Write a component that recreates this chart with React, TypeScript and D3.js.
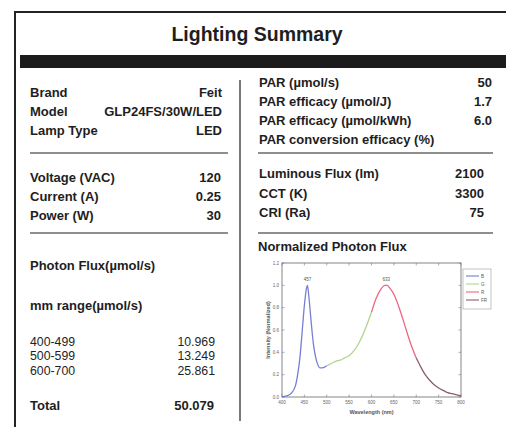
import React, { useEffect, useRef } from 'react';
import * as d3 from 'd3';

// Summary table rows
const productRows = [
  ["Brand", "Feit"],
  ["Model", "GLP24FS/30W/LED"],
  ["Lamp Type", "LED"],
];
const electricalRows = [
  ["Voltage (VAC)", "120"],
  ["Current (A)", "0.25"],
  ["Power (W)", "30"],
];
const parRows = [
  ["PAR (µmol/s)", "50"],
  ["PAR efficacy (µmol/J)", "1.7"],
  ["PAR efficacy (µmol/kWh)", "6.0"],
  ["PAR conversion efficacy (%)", ""],
];
const lightRows = [
  ["Luminous Flux (lm)", "2100"],
  ["CCT  (K)", "3300"],
  ["CRI (Ra)", "75"],
];
const fluxRanges = ["400-499", "500-599", "600-700"];
const fluxValues = ["10.969", "13.249", "25.861"];
const fluxTotal = "50.079";

// Spectrum
const wavelengths = [
  400, 410, 420, 430, 435, 440, 445, 450, 455, 457, 460, 465, 470, 475, 480, 485, 490,
  500, 510, 520, 530, 540, 550, 560, 570, 580, 590, 600, 610, 620, 630, 635, 640, 650,
  660, 670, 680, 690, 700, 710, 720, 730, 740, 750, 760, 770, 780, 790, 800,
];
const intensity = [
  0.0, 0.01, 0.03, 0.1, 0.2, 0.35, 0.58, 0.82, 0.98, 1.0, 0.9, 0.68, 0.48, 0.36, 0.29, 0.26, 0.26,
  0.28, 0.3, 0.32, 0.33, 0.35, 0.37, 0.41, 0.47, 0.55, 0.65, 0.76, 0.88, 0.96, 1.0, 1.0, 0.98, 0.92,
  0.82, 0.7, 0.57, 0.45, 0.35, 0.27, 0.2, 0.15, 0.11, 0.08, 0.06, 0.04, 0.03, 0.02, 0.01,
];
const bandNames = ["B", "G", "R", "FR"];
const bandEdges = [400, 500, 600, 700, 800];
const peaks = [[457, "457"], [633, "633"]];
const xTicks = [400, 450, 500, 550, 600, 650, 700, 750, 800];
const yTicks = [0, 0.2, 0.4, 0.6, 0.8, 1.0, 1.2];

export default function App() {
  const ref = useRef<SVGSVGElement>(null);

  useEffect(() => {
    if (!ref.current) return;
    const svg = d3.select(ref.current);
    svg.selectAll("*").remove();

    const font = "'Liberation Sans', Arial, sans-serif";
    const ink = "#1e1e1e";

    // outer frame and header bar
    svg.append("rect").attr("x", 15).attr("y", 12).attr("width", 520).attr("height", 440)
      .attr("fill", "none").attr("stroke", "#222").attr("stroke-width", 2);
    svg.append("text").attr("x", 257).attr("y", 41).attr("text-anchor", "middle")
      .attr("font-family", font).attr("font-weight", "bold").attr("font-size", 19.5)
      .attr("fill", ink).text("Lighting Summary");
    svg.append("rect").attr("x", 20).attr("y", 55).attr("width", 500).attr("height", 13).attr("fill", "#1c1c1c");
    svg.append("line").attr("x1", 240).attr("x2", 240).attr("y1", 80).attr("y2", 421)
      .attr("stroke", ink).attr("stroke-width", 1.2);

    const rows = (data: string[][], ys: number[], x0: number, x1: number, bold = true, size = 13) => {
      data.forEach((d, i) => {
        svg.append("text").attr("x", x0).attr("y", ys[i] + 4.6).attr("font-family", font)
          .attr("font-weight", bold ? "bold" : "normal").attr("font-size", size).attr("fill", ink).text(d[0]);
        svg.append("text").attr("x", x1).attr("y", ys[i] + 4.6).attr("text-anchor", "end").attr("font-family", font)
          .attr("font-weight", bold ? "bold" : "normal").attr("font-size", size).attr("fill", ink).text(d[1]);
      });
    };
    const rule = (x0: number, x1: number, y: number) =>
      svg.append("line").attr("x1", x0).attr("x2", x1).attr("y1", y).attr("y2", y).attr("stroke", ink).attr("stroke-width", 1.2);

    rows(productRows, [92, 111, 130], 30, 222);
    rule(30, 228, 153);
    rows(electricalRows, [177, 196, 215], 30, 221);
    rule(30, 228, 233);
    rows([["Photon Flux(µmol/s)", ""]], [265], 30, 220);
    rows([["mm range(µmol/s)", ""]], [305], 30, 220);
    rows(fluxRanges.map((r, i) => [r, fluxValues[i]]), [341, 355, 370], 30, 215, false, 12.3);
    rows([["Total", fluxTotal]], [405], 30, 214);

    rows(parRows, [82, 101, 120, 139], 259, 492);
    rule(258, 493, 153);
    rows(lightRows, [173, 193, 212], 259, 484);
    rule(258, 493, 233);
    rows([["Normalized Photon Flux", ""]], [246], 258, 490);

    // spectrum plot
    const x = d3.scaleLinear().domain([400, 800]).range([282, 461]);
    const y = d3.scaleLinear().domain([0, 1.2]).range([397, 263]);
    const g = svg.append("g");
    g.append("rect").attr("x", x(400)).attr("y", y(1.2)).attr("width", x(800) - x(400)).attr("height", y(0) - y(1.2))
      .attr("fill", "white").attr("stroke", "#666").attr("stroke-width", 0.8);
    const tickColor = "#777";
    xTicks.forEach(t => {
      g.append("line").attr("x1", x(t)).attr("x2", x(t)).attr("y1", y(0)).attr("y2", y(0) - 2.5).attr("stroke", tickColor).attr("stroke-width", 0.6);
      g.append("line").attr("x1", x(t)).attr("x2", x(t)).attr("y1", y(1.2)).attr("y2", y(1.2) + 2.5).attr("stroke", tickColor).attr("stroke-width", 0.6);
      g.append("text").attr("x", x(t)).attr("y", y(0) + 7).attr("text-anchor", "middle").attr("font-family", font)
        .attr("font-size", 4.5).attr("fill", "#666").text(t);
    });
    yTicks.forEach(t => {
      g.append("line").attr("x1", x(400)).attr("x2", x(400) + 2.5).attr("y1", y(t)).attr("y2", y(t)).attr("stroke", tickColor).attr("stroke-width", 0.6);
      g.append("line").attr("x1", x(800)).attr("x2", x(800) - 2.5).attr("y1", y(t)).attr("y2", y(t)).attr("stroke", tickColor).attr("stroke-width", 0.6);
      g.append("text").attr("x", x(400) - 3).attr("y", y(t) + 1.5).attr("text-anchor", "end").attr("font-family", font)
        .attr("font-size", 4.5).attr("fill", "#666").text(d3.format(".1f")(t));
    });
    g.append("text").attr("x", (x(400) + x(800)) / 2).attr("y", 414).attr("text-anchor", "middle").attr("font-family", font)
      .attr("font-weight", "bold").attr("font-size", 5.5).attr("fill", "#555").text("Wavelength (nm)");
    g.append("text").attr("transform", `translate(270, ${(y(0) + y(1.2)) / 2}) rotate(-90)`).attr("text-anchor", "middle")
      .attr("font-family", font).attr("font-weight", "bold").attr("font-size", 5.5).attr("fill", "#555").text("Intensity (Normalized)");

    const bandColors = ["#7580d2", "#b0d48e", "#ee6680", "#8a5d72"];
    const pts = wavelengths.map((w, i) => ({ w, v: intensity[i] }));
    const line = d3.line<{ w: number; v: number }>().x(d => x(d.w)).y(d => y(d.v)).curve(d3.curveMonotoneX);
    bandNames.forEach((b, i) => {
      const seg = pts.filter(p => p.w >= bandEdges[i] && p.w <= bandEdges[i + 1]);
      g.append("path").datum(seg).attr("d", line).attr("fill", "none").attr("stroke", bandColors[i]).attr("stroke-width", 1.3);
    });
    peaks.forEach(([w, label]) => {
      g.append("text").attr("x", x(w as number)).attr("y", y(1.0) - 4).attr("text-anchor", "middle").attr("font-family", font)
        .attr("font-size", 4.5).attr("fill", "#555").text(label as string);
    });

    // legend
    const lg = g.append("g").attr("transform", "translate(463, 269)");
    lg.append("rect").attr("width", 28).attr("height", 40).attr("fill", "white").attr("stroke", "#999").attr("stroke-width", 0.6);
    bandNames.forEach((b, i) => {
      const ly = 7 + i * 8;
      lg.append("line").attr("x1", 3).attr("x2", 16).attr("y1", ly).attr("y2", ly).attr("stroke", bandColors[i]).attr("stroke-width", 1.1);
      lg.append("text").attr("x", 18).attr("y", ly + 1.6).attr("font-family", font).attr("font-size", 4.5).attr("fill", "#555").text(b);
    });
  }, []);

  return (
    <svg ref={ref} width={506} height={427} style={{ position: 'absolute', left: 0, top: 0, background: 'white' }} />
  );
}
